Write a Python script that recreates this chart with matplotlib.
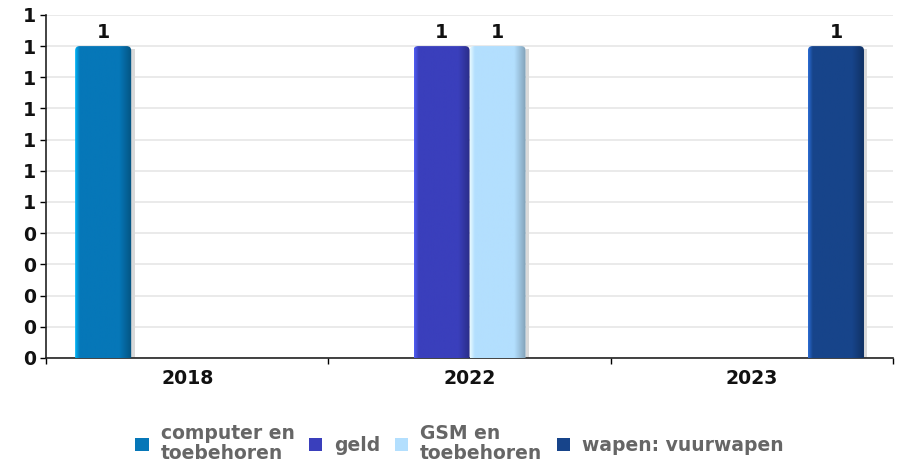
import numpy as np
import matplotlib
matplotlib.use("Agg")
import matplotlib.pyplot as plt
import matplotlib.colors as mcolors
from matplotlib.patches import FancyBboxPatch, Rectangle, Patch
from matplotlib.ticker import FuncFormatter, MultipleLocator

years = ["2018", "2022", "2023"]
categories = ["computer en\ntoebehoren", "geld", "GSM en\ntoebehoren", "wapen: vuurwapen"]
computer = [1, 0, 0]
geld = [0, 1, 0]
gsm = [0, 1, 0]
wapen = [0, 0, 1]
series = [computer, geld, gsm, wapen]
colors = ["#0677b8", "#3a3fbc", "#b3dffe", "#17448a"]
edge_colors = ["#00b2f5", "#4f5cf0", "#e4f8ff", "#2a6ad0"]

FS = 13.6
LEG_FS = 13.5

fig = plt.figure(figsize=(9.03, 4.66), dpi=100)
ax = fig.add_axes([0.051, 0.232, 0.938, 0.736])

ngroups = len(years)
nser = len(series)
pad = 0.103
slot = (1 - 2 * pad) / nser

def shaded(color, edge):
    base = np.array(mcolors.to_rgb(color))
    hi = np.array(mcolors.to_rgb(edge))
    t = np.linspace(0, 1, 80)
    img = np.zeros((1, len(t), 3))
    for i, v in enumerate(t):
        if v < 0.08:
            k = v / 0.08
            c = hi * (1 - k) + base * k
        elif v > 0.78:
            k = (v - 0.78) / 0.22
            c = base * (1 - 0.3 * k)
        else:
            c = base
        img[0, i] = np.clip(c, 0, 1)
    return img

def draw_bar(x0, h, color, edge):
    # soft shadow to the right
    ax.add_patch(Rectangle((x0 + slot, 0), 0.012, h - 0.01, color="#d9d9d9", lw=0, zorder=2))
    clip = FancyBboxPatch((x0, -0.05), slot, h + 0.05,
                          boxstyle="round,pad=0,rounding_size=0.016",
                          mutation_aspect=0.9, transform=ax.transData,
                          fc="none", ec="none")
    ax.add_patch(clip)
    im = ax.imshow(shaded(color, edge), extent=[x0, x0 + slot, 0, h],
                   aspect="auto", interpolation="bilinear", zorder=3)
    im.set_clip_path(clip)

for s, (vals, col, ec) in enumerate(zip(series, colors, edge_colors)):
    for g, v in enumerate(vals):
        if v <= 0:
            continue
        x0 = g + pad + s * slot
        draw_bar(x0, v, col, ec)
        ax.text(x0 + slot / 2, v + 0.012, str(v), ha="center", va="bottom",
                fontsize=FS, fontweight="bold", color="#111111", zorder=4)

ax.set_xlim(0, ngroups)
ax.set_ylim(0, 1.1)
ax.yaxis.set_major_locator(MultipleLocator(0.1))
ax.yaxis.set_major_formatter(FuncFormatter(lambda v, p: str(int(v + 0.5 + 1e-9))))
ax.grid(axis="y", color="#e6e6e6", lw=1.2, zorder=0)
ax.set_axisbelow(True)

ax.set_xticks(range(ngroups + 1))
ax.set_xticklabels([])
ax.set_xticks([g + 0.5 for g in range(ngroups)], minor=True)
ax.set_xticklabels(years, minor=True)
ax.tick_params(axis="x", which="minor", length=0, pad=8)
ax.tick_params(axis="x", which="major", length=4, width=1)
ax.tick_params(axis="y", length=4, width=1, pad=3)
for lab in ax.get_xticklabels(minor=True) + ax.get_yticklabels():
    lab.set_fontsize(FS)
    lab.set_fontweight("bold")
    lab.set_color("#111111")

for side in ["top", "right"]:
    ax.spines[side].set_visible(False)
for side in ["left", "bottom"]:
    ax.spines[side].set_color("#222222")
    ax.spines[side].set_linewidth(1.2)

handles = [Patch(facecolor=c, edgecolor="none") for c in colors]
leg = fig.legend(handles, categories, loc="center", bbox_to_anchor=(0.509, 0.048),
                 ncol=4, frameon=False, handlelength=0.7, handleheight=0.7,
                 handletextpad=0.64, columnspacing=0.78,
                 prop={"size": LEG_FS, "weight": "bold"}, labelcolor="#666666")
for t in leg.get_texts():
    t.set_linespacing(1.08)

fig.savefig("out.png", dpi=100)
